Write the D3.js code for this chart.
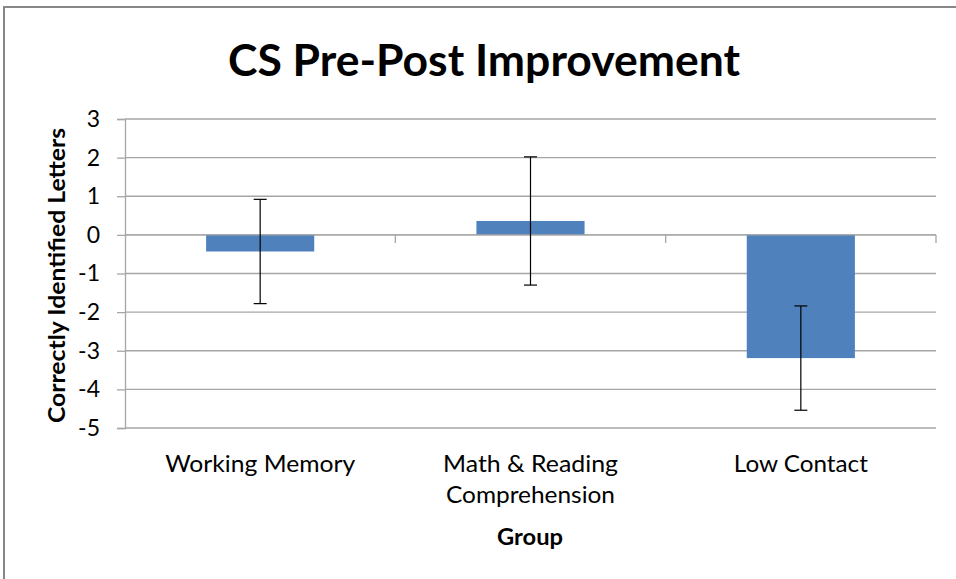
<!DOCTYPE html>
<html>
<head>
<meta charset="utf-8">
<script src="https://cdn.jsdelivr.net/npm/d3@7"></script>
<style>
  html, body { margin: 0; padding: 0; background: #fff; }
  svg { display: block; }
  text { font-family: Lato, "Open Sans", sans-serif; fill: #000; }
</style>
</head>
<body>
<svg id="chart" width="956" height="579"></svg>
<script>
// Mean pre-post change per group, with error bar half-widths
const groups = ["Working Memory", "Math & Reading|Comprehension", "Low Contact"];
const means = [-0.43, 0.36, -3.19];
const errors = [1.35, 1.66, 1.35];
const yTicks = [3, 2, 1, 0, -1, -2, -3, -4, -5];

// Rendered widths of the label lines (condensed Calibri-like set)
const lineWidths = {
  "Working Memory": 190, "Math & Reading": 175, "Comprehension": 169, "Low Contact": 134
};

const svg = d3.select("#chart");
const W = 956, H = 579;
const plot = { left: 125, right: 936, top: 119, bottom: 428 };

// Outer chart frame (only top and left edges fall inside the view)
svg.append("rect")
  .attr("x", 4).attr("y", 7)
  .attr("width", W + 10).attr("height", H + 10)
  .attr("fill", "#fff")
  .attr("stroke", "#878787").attr("stroke-width", 2);

const x = d3.scaleBand().domain(groups).range([plot.left, plot.right]).paddingInner(0).paddingOuter(0);
const y = d3.scaleLinear().domain([-5, 3]).range([plot.bottom, plot.top]);

// Horizontal gridlines
svg.append("g").selectAll("line").data(yTicks).join("line")
  .attr("x1", plot.left).attr("x2", plot.right)
  .attr("y1", d => y(d)).attr("y2", d => y(d))
  .attr("stroke", "#a6a6a6").attr("stroke-width", 1.3);

// Y axis
const yAxis = svg.append("g")
  .attr("transform", `translate(${plot.left},0)`)
  .call(d3.axisLeft(y).tickValues(yTicks).tickSize(8).tickPadding(17).tickFormat(d3.format("d")));
yAxis.select(".domain").attr("stroke", "#a6a6a6").attr("stroke-width", 1.3);
yAxis.selectAll(".tick line").attr("stroke", "#a6a6a6").attr("stroke-width", 1.3);
yAxis.selectAll(".tick text")
  .attr("font-size", 23).attr("fill", "#000")
  .style("font-family", "Lato, sans-serif")
  .text(d => d < 0 ? "-" + Math.abs(d) : d);

// Bars
const barW = x.bandwidth() / 2.5;
svg.append("g").selectAll("rect").data(groups).join("rect")
  .attr("x", d => x(d) + (x.bandwidth() - barW) / 2)
  .attr("width", barW)
  .attr("y", (d, i) => y(Math.max(0, means[i])))
  .attr("height", (d, i) => Math.abs(y(means[i]) - y(0)))
  .attr("fill", "#4f81bd");

// Category axis along zero with boundary ticks
const xAxis = svg.append("g")
  .attr("transform", `translate(0,${y(0)})`);
xAxis.append("line")
  .attr("x1", plot.left).attr("x2", plot.right)
  .attr("stroke", "#a6a6a6").attr("stroke-width", 1.3);
const bounds = groups.map(g => x(g) + x.bandwidth());
xAxis.selectAll("line.tk").data(bounds).join("line")
  .attr("class", "tk")
  .attr("x1", d => d).attr("x2", d => d)
  .attr("y1", 0).attr("y2", 8)
  .attr("stroke", "#a6a6a6").attr("stroke-width", 1.3);

// Error bars
const eb = svg.append("g").selectAll("g").data(groups).join("g");
const cx = d => x(d) + x.bandwidth() / 2;
eb.append("line")
  .attr("x1", cx).attr("x2", cx)
  .attr("y1", (d, i) => y(means[i] + errors[i]))
  .attr("y2", (d, i) => y(means[i] - errors[i]))
  .attr("stroke", "#000").attr("stroke-width", 1.2);
[1, -1].forEach(s => {
  eb.append("line")
    .attr("x1", d => cx(d) - 6.5).attr("x2", d => cx(d) + 6.5)
    .attr("y1", (d, i) => y(means[i] + s * errors[i]))
    .attr("y2", (d, i) => y(means[i] + s * errors[i]))
    .attr("stroke", "#000").attr("stroke-width", 1.2);
});

// Category labels (multi-line where split with "|")
svg.append("g").selectAll("text").data(groups).join("text")
  .attr("text-anchor", "middle")
  .attr("font-size", 23)
  .attr("transform", d => `translate(${cx(d)},472)`)
  .each(function(d) {
    d.split("|").forEach((line, k) => {
      d3.select(this).append("tspan")
        .attr("x", 0).attr("y", k * 31)
        .attr("textLength", lineWidths[line])
        .attr("lengthAdjust", "spacingAndGlyphs")
        .text(line);
    });
  });

// Title
svg.append("text")
  .attr("x", 484).attr("y", 76)
  .attr("text-anchor", "middle")
  .attr("font-size", 44).attr("font-weight", "bold")
  .attr("textLength", 512).attr("lengthAdjust", "spacingAndGlyphs")
  .text("CS Pre-Post Improvement");

// Axis titles
svg.append("text")
  .attr("x", 530).attr("y", 545)
  .attr("text-anchor", "middle")
  .attr("font-size", 23).attr("font-weight", "bold")
  .attr("textLength", 66).attr("lengthAdjust", "spacingAndGlyphs")
  .text("Group");

svg.append("text")
  .attr("transform", "translate(65,275.5) rotate(-90)")
  .attr("text-anchor", "middle")
  .attr("font-size", 23).attr("font-weight", "bold")
  .attr("textLength", 295).attr("lengthAdjust", "spacingAndGlyphs")
  .text("Correctly Identified Letters");
</script>
</body>
</html>
